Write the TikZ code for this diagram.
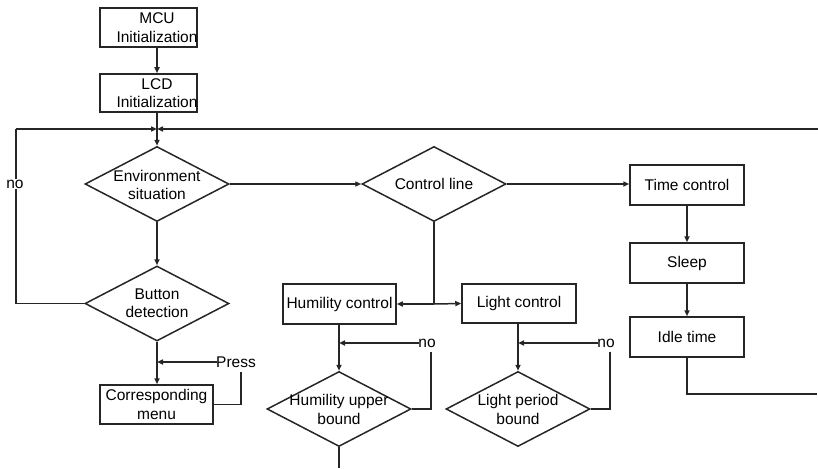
\documentclass[tikz,border=0pt]{standalone}
\usepackage{fontspec}
\setmainfont{Liberation Sans}
\usetikzlibrary{arrows.meta,shapes.geometric,calc}
\begin{document}
\begin{tikzpicture}[x=1pt,y=-1pt,
  every node/.style={font=\fontsize{15.5}{18.5}\selectfont, inner sep=0pt},
  ln/.style={line width=1.5pt, draw=black!85},
  arr/.style={ln, -{Triangle[length=6pt,width=5pt]}},
  box/.style={draw=black!85, line width=1.5pt, minimum height=39pt, align=center},
  dia/.style={draw=black!85, line width=1.5pt, diamond, minimum width=144pt, minimum height=75pt},
  txt/.style={align=center},
  lab/.style={fill=white, inner sep=1pt}]
\useasboundingbox (0,0) rectangle (818,468);

% top boxes
\node[box, minimum width=97pt] (mcu) at (148.5,27.5) {};
\node[txt] (mcut) at (157,27.5) {MCU\\Initialization};
\node[box, minimum width=97pt, minimum height=38pt] (lcd) at (148.5,93) {};
\node[txt] (lcdt) at (157,93) {LCD\\Initialization};

% environment / button
\node[dia] (env) at (157,184) {};
\node[txt] (envt) at (157,185) {Environment\\situation};
\node[dia] (btn) at (157,303.5) {};
\node[txt] (btnt) at (157,303) {Button\\detection};
\node[box, minimum width=113pt] (menu) at (156.5,404.5) {};
\node[txt] (menut) at (156.5,404.5) {Corresponding\\menu};

\coordinate (jn) at (157,129);

\draw[arr] (mcu.south -| jn) -- (lcd.north -| jn);
\draw[ln] (lcd.south -| jn) -- (jn);
\draw[arr] (jn) -- (env.north);
\draw[arr] (env.south) -- (btn.north);
\draw[arr] (btn.south) -- (menu.north -| btn);

% no loop
\node[lab] (no1) at (15,184) {no};
\coordinate (lc) at (16,129);
\draw[ln] (btn.west) -| (no1.south -| lc);
\draw[ln] (no1.north -| lc) -- (lc);
\draw[arr] (lc) -- (jn);

% press loop
\node[inner sep=0pt] (press) at (236,362) {Press};
\coordinate (pc) at (241,372);
\draw[ln] (menu.east) -| (pc);
\draw[arr] ($(press.west)+(1,0)$) -- (press.west -| jn);

% control line
\node[dia] (ctl) at (434,184) {};
\node[txt] (ctlt) at (434,184) {Control line};
\draw[arr] (env.east) -- (ctl.west);

% time column
\node[box, minimum width=114pt, minimum height=40pt] (tim) at (687,185) {Time control};
\node[box, minimum width=114pt, minimum height=40pt] (slp) at (687,263) {Sleep};
\node[box, minimum width=114pt, minimum height=40pt] (idl) at (687,337) {Idle time};
\draw[arr] (ctl.east) -- (tim.west |- ctl.east);
\draw[arr] (tim.south) -- (slp.north);
\draw[arr] (slp.south) -- (idl.north);
\coordinate (rb) at (817,394);
\coordinate (rt) at (818,129);
\draw[ln] (idl.south) |- (rb);
\draw[arr] (rt) -- (jn);

% humility / light
\node[box, minimum width=113pt, minimum height=40pt] (hum) at (339.5,304) {Humility control};
\node[box, minimum width=114pt, minimum height=39pt] (lig) at (519,303.5) {Light control};
\coordinate (cj) at (434,304);
\draw[ln] (ctl.south) -- (cj);
\draw[arr] (cj) -- (hum.east);
\draw[arr] (cj) -- (lig.west);

\node[dia] (hub) at (339,409) {};
\node[txt] (hubt) at (339,409.5) {Humility upper\\bound};
\node[dia] (lpb) at (518,409) {};
\node[txt] (lpbt) at (518,409.5) {Light period\\bound};

\draw[arr] (hum.south -| hub) -- (hub.north);
\draw[arr] (lig.south -| lpb) -- (lpb.north);
\draw[ln] (hub.south) -- (339,468);

\node[inner sep=0pt] (no2) at (427,343) {no};
\node[inner sep=0pt] (no3) at (606,343) {no};
\coordinate (h1) at (431,352);
\coordinate (l1) at (610,352);
\draw[ln] (hub.east) -| (h1);
\draw[ln] (lpb.east) -| (l1);
\draw[arr] ($(no2.west)+(1,0)$) -- (no2.west -| hub);
\draw[arr] ($(no3.west)+(1,0)$) -- (no3.west -| lpb);
\end{tikzpicture}
\end{document}
